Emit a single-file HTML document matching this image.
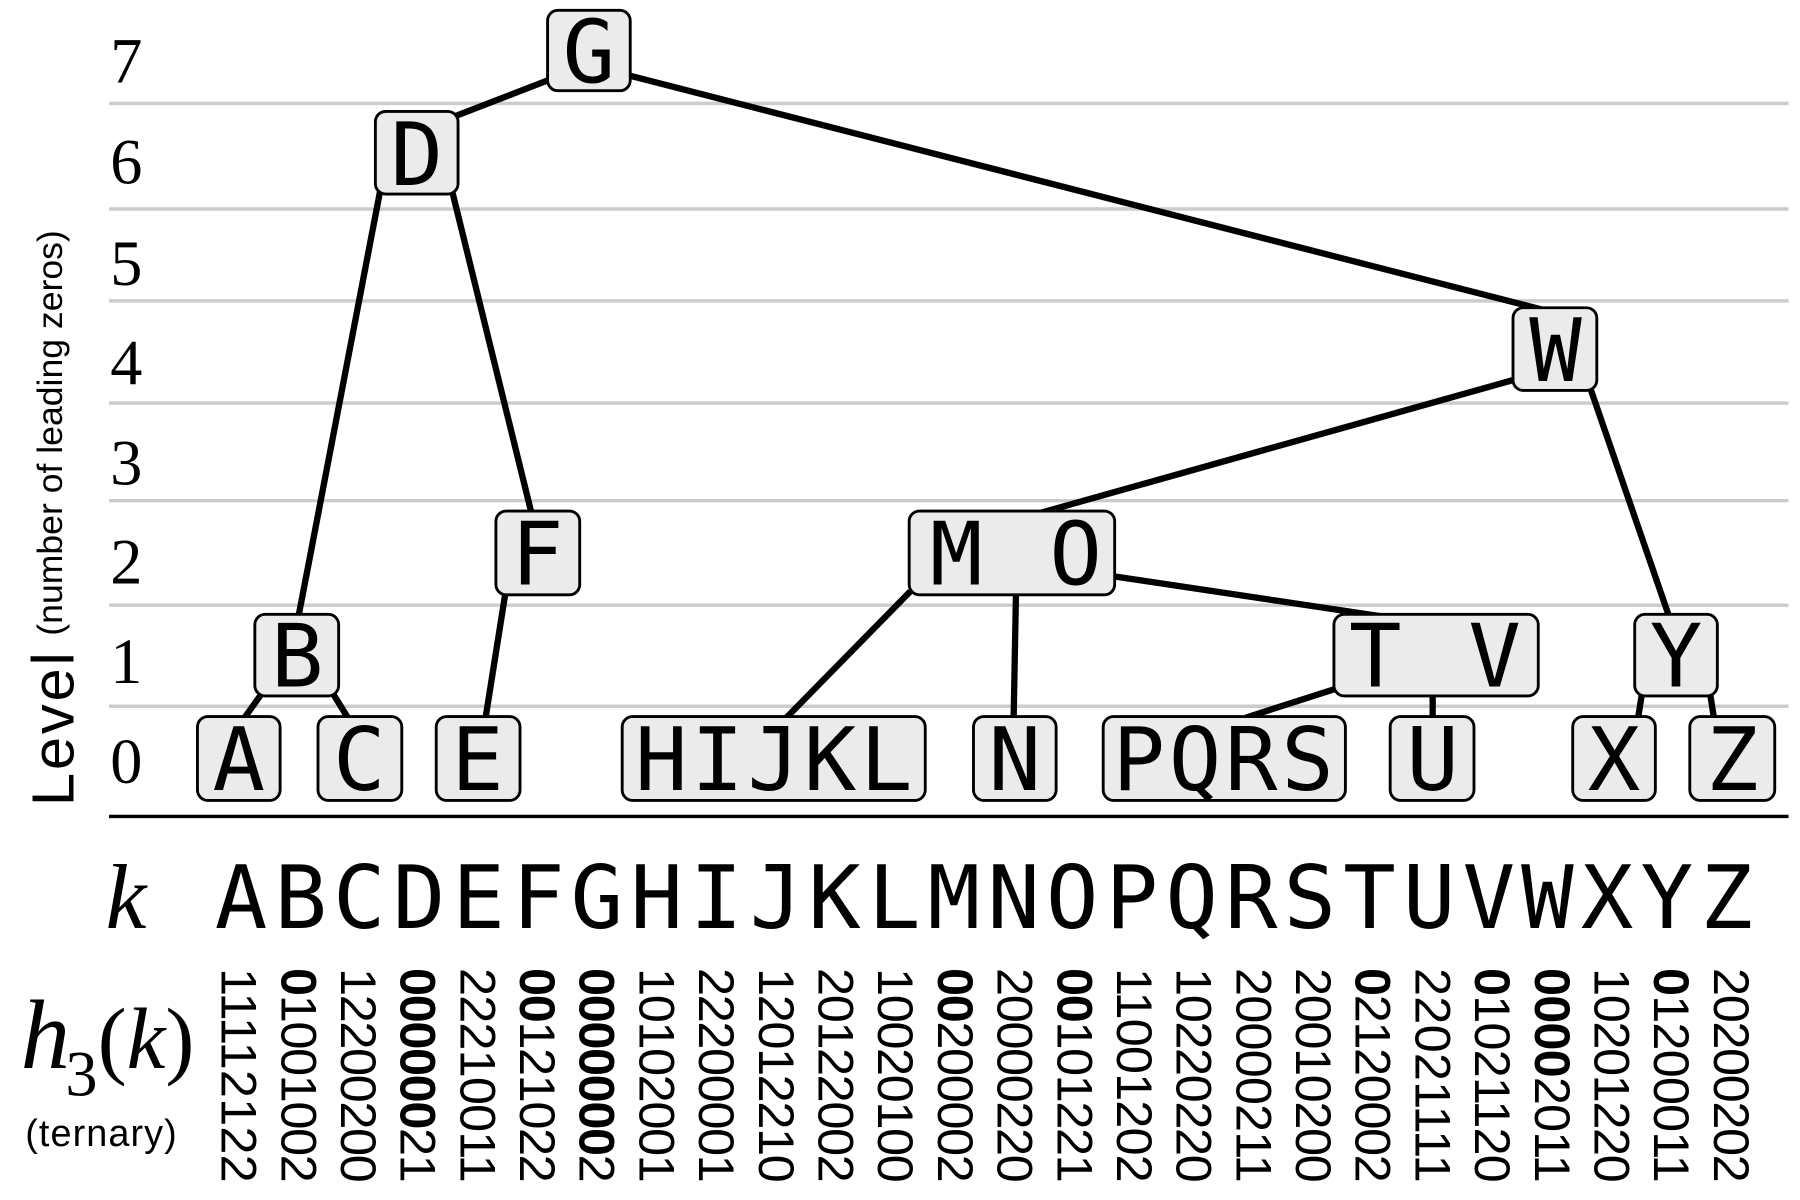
<!DOCTYPE html>
<html><head><meta charset="utf-8"><style>
html,body{margin:0;padding:0;background:#fff;}
svg{display:block;}
.n{font-family:"DejaVu Sans Mono","Liberation Mono",monospace;font-size:76px;text-anchor:middle;}
.lv{font-family:"Liberation Serif",serif;font-size:56px;text-anchor:middle;}
.h{font-family:"Liberation Sans",sans-serif;font-size:44px;}
</style></head><body>
<svg width="1800" height="1200" viewBox="0 0 1568 1045" preserveAspectRatio="none" xmlns="http://www.w3.org/2000/svg">
<rect width="1568" height="1045" fill="#fff"/>
<g stroke="#cccccc" stroke-width="3">
<line x1="95" y1="90" x2="1558" y2="90"/><line x1="95" y1="182" x2="1558" y2="182"/>
<line x1="95" y1="262" x2="1558" y2="262"/><line x1="95" y1="351" x2="1558" y2="351"/>
<line x1="95" y1="436" x2="1558" y2="436"/><line x1="95" y1="527" x2="1558" y2="527"/>
<line x1="95" y1="615" x2="1558" y2="615"/>
</g>
<line x1="95" y1="711" x2="1558" y2="711" stroke="#000" stroke-width="3"/>
<g class="lv">
<text x="110" y="72">7</text><text x="110" y="160">6</text><text x="110" y="248">5</text><text x="110" y="335">4</text>
<text x="110" y="422">3</text><text x="110" y="508">2</text><text x="110" y="595">1</text><text x="110" y="682">0</text>
</g>
<text transform="translate(64,702) rotate(-90)" font-family="Liberation Sans,sans-serif"><tspan font-size="52" textLength="134">Level</tspan><tspan font-size="31" dx="12" dy="-10">(number of leading zeros)</tspan></text>
<g stroke="#000" stroke-width="5.5" fill="none">
<line x1="477" y1="70" x2="397" y2="101"/>
<line x1="549" y1="66" x2="1345" y2="270"/>
<line x1="331" y1="167" x2="260" y2="537"/>
<line x1="394" y1="167" x2="463" y2="447"/>
<line x1="440" y1="518" x2="423" y2="625"/>
<line x1="228" y1="604" x2="213" y2="625"/>
<line x1="290" y1="604" x2="303" y2="625"/>
<line x1="1318" y1="331" x2="905" y2="447"/>
<line x1="1386" y1="340" x2="1454" y2="537"/>
<line x1="793" y1="515" x2="685" y2="625"/>
<line x1="885" y1="518" x2="883" y2="625"/>
<line x1="971" y1="502" x2="1205" y2="537"/>
<line x1="1163" y1="600" x2="1085" y2="625"/>
<line x1="1248" y1="606" x2="1248" y2="625"/>
<line x1="1430" y1="606" x2="1427" y2="625"/>
<line x1="1490" y1="606" x2="1493" y2="625"/>
</g>
<g fill="#ebebeb" stroke="#000" stroke-width="2.5">
<rect x="477" y="9" width="72" height="70" rx="9"/>
<rect x="327" y="97" width="72" height="72" rx="9"/>
<rect x="1318" y="268" width="73" height="72" rx="9"/>
<rect x="432" y="445" width="73" height="73" rx="9"/>
<rect x="792" y="445" width="179" height="73" rx="9"/>
<rect x="222" y="535" width="73" height="71" rx="9"/>
<rect x="1162" y="535" width="178" height="71" rx="9"/>
<rect x="1424" y="535" width="72" height="71" rx="9"/>
<rect x="172" y="624" width="72" height="73" rx="9"/>
<rect x="277" y="624" width="73" height="73" rx="9"/>
<rect x="380" y="624" width="73" height="73" rx="9"/>
<rect x="542" y="624" width="264" height="73" rx="9"/>
<rect x="848" y="624" width="72" height="73" rx="9"/>
<rect x="961" y="624" width="211" height="73" rx="9"/>
<rect x="1211" y="624" width="73" height="73" rx="9"/>
<rect x="1370" y="624" width="72" height="73" rx="9"/>
<rect x="1472" y="624" width="74" height="73" rx="9"/>
</g>
<g class="n">
<text x="513" y="72">G</text><text x="363" y="161">D</text><text x="1355" y="332">W</text>
<text x="468" y="509">F</text><text x="833" y="509">M</text><text x="937" y="509">O</text>
<text x="259" y="598">B</text><text x="1198" y="598">T</text><text x="1302" y="598">V</text><text x="1460" y="598">Y</text>
<text x="208" y="688">A</text><text x="313" y="688">C</text><text x="416" y="688">E</text>
<text x="576" y="688">H</text><text x="625" y="688">I</text><text x="674" y="688">J</text><text x="723" y="688">K</text><text x="772" y="688">L</text>
<text x="884" y="688">N</text>
<text x="992" y="688">P</text><text x="1041" y="688">Q</text><text x="1090" y="688">R</text><text x="1139" y="688">S</text>
<text x="1248" y="688">U</text><text x="1406" y="688">X</text><text x="1509" y="688">Z</text>
</g>
<text x="92" y="808" font-family="Liberation Serif,serif" font-style="italic" font-size="80">k</text>
<g class="n" font-size="80">
<text x="210" y="808">A</text><text x="262" y="808">B</text><text x="313" y="808">C</text><text x="365" y="808">D</text><text x="417" y="808">E</text><text x="469" y="808">F</text><text x="520" y="808">G</text><text x="572" y="808">H</text><text x="624" y="808">I</text><text x="676" y="808">J</text><text x="727" y="808">K</text><text x="779" y="808">L</text><text x="831" y="808">M</text><text x="883" y="808">N</text><text x="934" y="808">O</text><text x="986" y="808">P</text><text x="1038" y="808">Q</text><text x="1090" y="808">R</text><text x="1141" y="808">S</text><text x="1193" y="808">T</text><text x="1245" y="808">U</text><text x="1297" y="808">V</text><text x="1348" y="808">W</text><text x="1400" y="808">X</text><text x="1452" y="808">Y</text><text x="1504" y="808">Z</text>
</g>
<text x="18" y="930" font-family="Liberation Serif,serif" font-size="86"><tspan font-style="italic">h</tspan><tspan font-size="56" dx="-4" dy="24">3</tspan><tspan dy="-24" font-size="76">(</tspan><tspan font-style="italic" font-size="76">k</tspan><tspan font-size="76">)</tspan></text>
<text x="22" y="998" font-family="Liberation Sans,sans-serif" font-size="33" textLength="132">(ternary)</text>
<g class="h">
<text transform="translate(193,843) rotate(90)" textLength="187">11112122</text>
<text transform="translate(245,843) rotate(90)" textLength="187"><tspan font-weight="bold">0</tspan>1001002</text>
<text transform="translate(297,843) rotate(90)" textLength="187">12200200</text>
<text transform="translate(349,843) rotate(90)" textLength="187"><tspan font-weight="bold">000000</tspan>21</text>
<text transform="translate(401,843) rotate(90)" textLength="187">22210011</text>
<text transform="translate(453,843) rotate(90)" textLength="187"><tspan font-weight="bold">00</tspan>121022</text>
<text transform="translate(505,843) rotate(90)" textLength="187"><tspan font-weight="bold">0000000</tspan>2</text>
<text transform="translate(557,843) rotate(90)" textLength="187">10102001</text>
<text transform="translate(609,843) rotate(90)" textLength="187">22200001</text>
<text transform="translate(661,843) rotate(90)" textLength="187">12012210</text>
<text transform="translate(713,843) rotate(90)" textLength="187">20122002</text>
<text transform="translate(765,843) rotate(90)" textLength="187">10020100</text>
<text transform="translate(817,843) rotate(90)" textLength="187"><tspan font-weight="bold">00</tspan>200002</text>
<text transform="translate(869,843) rotate(90)" textLength="187">20000220</text>
<text transform="translate(921,843) rotate(90)" textLength="187"><tspan font-weight="bold">00</tspan>101221</text>
<text transform="translate(973,843) rotate(90)" textLength="187">11001202</text>
<text transform="translate(1025,843) rotate(90)" textLength="187">10220220</text>
<text transform="translate(1077,843) rotate(90)" textLength="187">20000211</text>
<text transform="translate(1129,843) rotate(90)" textLength="187">20010200</text>
<text transform="translate(1181,843) rotate(90)" textLength="187"><tspan font-weight="bold">0</tspan>2120002</text>
<text transform="translate(1233,843) rotate(90)" textLength="187">22021111</text>
<text transform="translate(1285,843) rotate(90)" textLength="187"><tspan font-weight="bold">0</tspan>1021120</text>
<text transform="translate(1337,843) rotate(90)" textLength="187"><tspan font-weight="bold">0000</tspan>2011</text>
<text transform="translate(1389,843) rotate(90)" textLength="187">10201220</text>
<text transform="translate(1441,843) rotate(90)" textLength="187"><tspan font-weight="bold">0</tspan>1200011</text>
<text transform="translate(1493,843) rotate(90)" textLength="187">20200202</text>
</g>
</svg>
</body></html>
